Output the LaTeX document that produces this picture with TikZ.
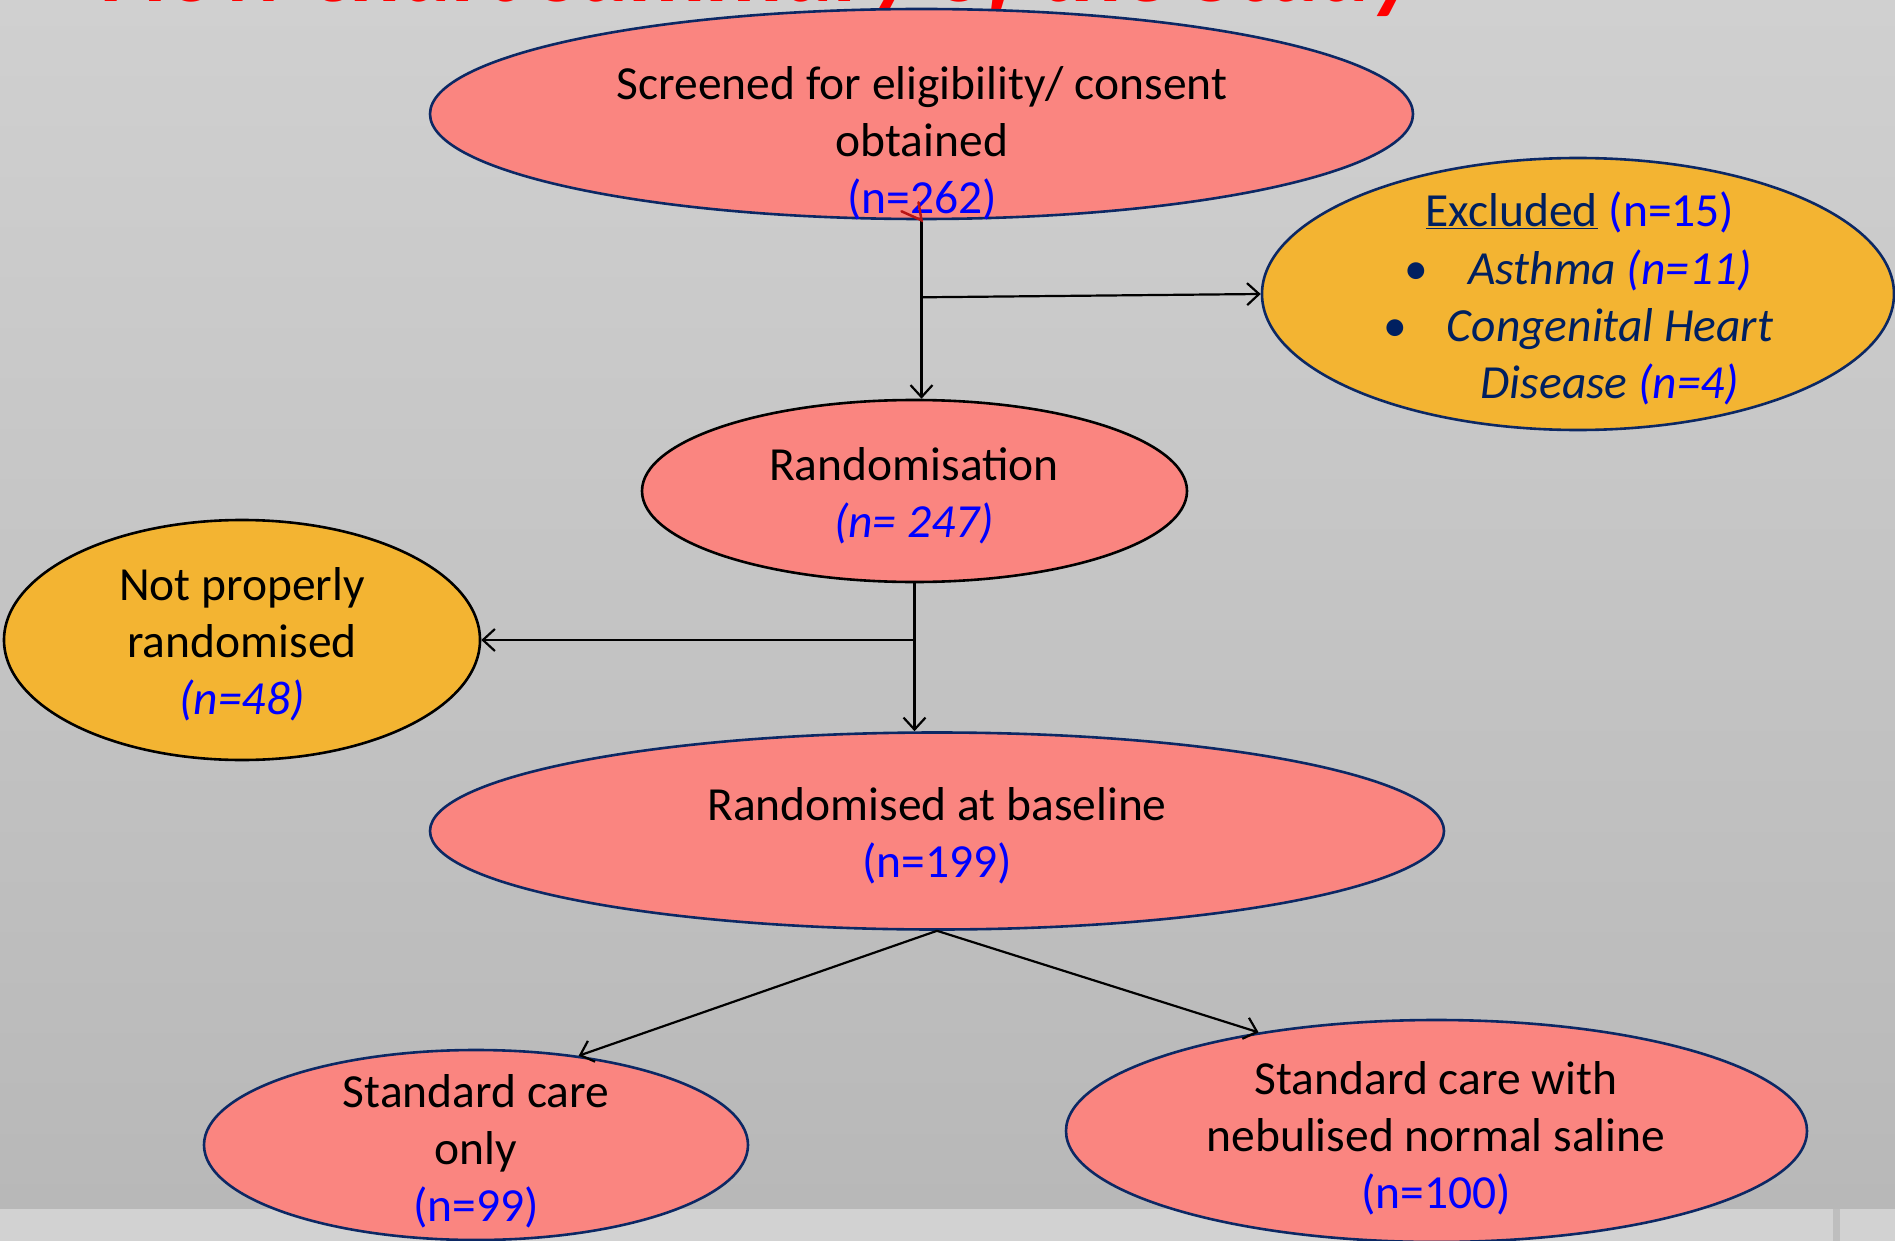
\documentclass[tikz,border=0pt]{standalone}
\usepackage{fontspec}
\setmainfont{Carlito}
\usetikzlibrary{shapes.geometric,arrows.meta,calc}
\definecolor{salmonfill}{RGB}{250,133,128}
\definecolor{amberfill}{RGB}{243,180,50}
\definecolor{bordnavy}{RGB}{12,40,100}
\definecolor{txtnavy}{RGB}{0,32,96}
\definecolor{nblue}{RGB}{0,0,255}
\definecolor{bgtop}{RGB}{208,208,208}
\definecolor{bgbot}{RGB}{184,184,184}
\definecolor{stripcol}{RGB}{210,210,210}
\definecolor{stripline}{RGB}{190,190,190}
\definecolor{redmark}{RGB}{185,20,20}
\definecolor{titlered}{RGB}{255,0,0}
\begin{document}
\begin{tikzpicture}[x=1pt,y=-1pt,
  oval/.style={ellipse, inner sep=0pt, line width=2.6pt},
  pinkov/.style={oval, fill=salmonfill, draw=bordnavy},
  pinkblk/.style={oval, fill=salmonfill, draw=black},
  amberov/.style={oval, fill=amberfill, draw=bordnavy},
  amberblk/.style={oval, fill=amberfill, draw=black},
  txt/.style={align=center, font=\fontsize{47.5}{57}\selectfont, inner sep=0pt},
  conn/.style={line width=2.2pt, draw=black, -{Straight Barb[length=12pt,width=22pt]}},
  titlestyle/.style={font=\fontsize{96}{110}\selectfont\bfseries\itshape, text=titlered, inner sep=0pt}
]
\useasboundingbox (0,0) rectangle (1895,1241);
\clip (0,0) rectangle (1895,1241);
% background
\shade[top color=bgtop, bottom color=bgbot] (0,0) rectangle (1895,1209);
\fill[stripcol] (0,1209) rectangle (1895,1241);
\fill[stripline] (1833,1209) rectangle (1840,1241);
% title (cut off at top)
\node[titlestyle, anchor=base west] (title) at (102,2) {Flow chart summary of the Study};
% ellipses
\node[pinkov, minimum width=983pt, minimum height=210pt] (scr) at (921.5,114) {};
\node[amberov, minimum width=632pt, minimum height=272pt] (exc) at (1578,294) {};
\node[pinkblk, minimum width=545pt, minimum height=182pt] (rnd) at (914.5,491) {};
\node[amberblk, minimum width=476pt, minimum height=240pt] (np) at (242,640) {};
\node[pinkov, minimum width=1014pt, minimum height=197pt] (bas) at (937,831) {};
\node[pinkov, minimum width=544pt, minimum height=190pt] (so) at (476,1145) {};
\node[pinkov, minimum width=741pt, minimum height=222pt] (ss) at (1436.5,1131) {};
% texts
\node[txt] (scrt) at (922,143) {Screened for eligibility/ consent\\ obtained\\ \textcolor{nblue}{(n=262)}};
\node[txt, text=txtnavy] (exh) at (1580,212) {\underline{Excluded} \textcolor{nblue}{(n=15)}};
\node[txt, text=txtnavy, font=\fontsize{47.5}{57}\selectfont\itshape] (exl) at (1610,327)
  {\makebox[0pt][r]{\upshape\textbullet\hspace{40pt}}Asthma \textcolor{nblue}{(n=11)}\\
   \makebox[0pt][r]{\upshape\textbullet\hspace{40pt}}Congenital Heart\\
   Disease \textcolor{nblue}{(n=4)}};
\node[txt] (rndt) at (914,496) {Randomisation\\ \textcolor{nblue}{\itshape (n= 247)}};
\node[txt] (npt) at (242,644) {Not properly\\ randomised\\ \textcolor{nblue}{\itshape (n=48)}};
\node[txt] (bast) at (937,836) {Randomised at baseline\\ \textcolor{nblue}{(n=199)}};
\node[txt] (sot) at (476,1151) {Standard care\\ only\\ \textcolor{nblue}{(n=99)}};
\node[txt] (sst) at (1436,1138) {Standard care with\\ nebulised normal saline\\ \textcolor{nblue}{(n=100)}};
% connectors
\coordinate (j1) at ($(scr.south)+(0,77)$);
\coordinate (j2) at (rnd.south |- np.east);
\draw[conn] (scr.south) -- (scr.south |- rnd.north);
\draw[conn] (j1) -- (exc.west);
\draw[conn] (rnd.south) -- (rnd.south |- bas.north);
\draw[conn] (j2) -- (np.east);
\draw[conn] (bas.south) -- (so.41);
\draw[conn] (bas.south) -- (ss.151);
% small red mark
\draw[redmark, line width=2.5pt, line cap=round] ($(scr.south)+(-20,-9)$) -- (scr.south) -- ($(scr.south)+(-3,-18)$);
\end{tikzpicture}
\end{document}
